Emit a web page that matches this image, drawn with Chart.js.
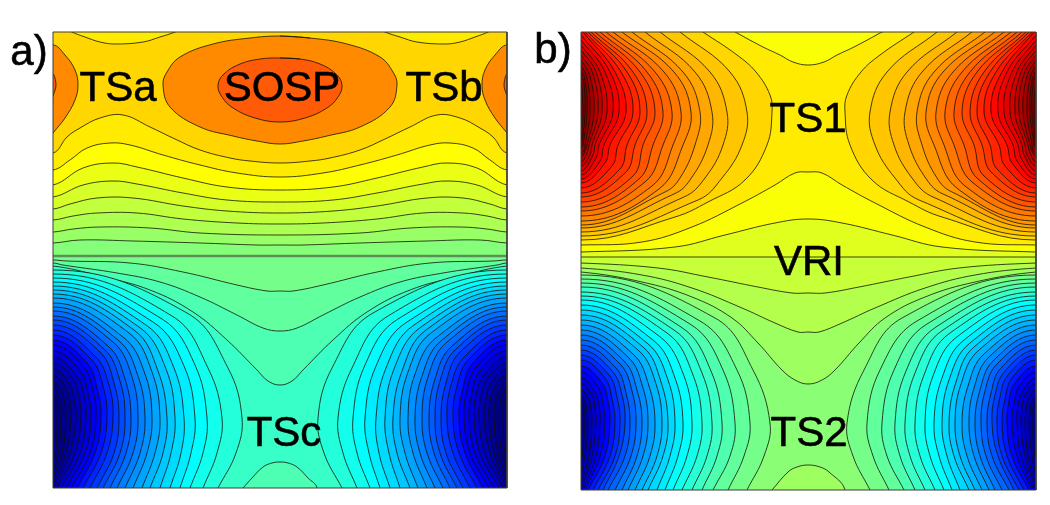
<!DOCTYPE html>
<html>
<head>
<meta charset="utf-8">
<script src="https://cdn.jsdelivr.net/npm/chart.js@4"></script>
<style>
html,body{margin:0;padding:0;background:#fff;width:1050px;height:505px;overflow:hidden}
canvas{position:absolute;top:0;filter:blur(0.6px)}
#ca{left:0}#cb{left:525px}
</style>
</head>
<body>
<canvas id="ca" width="525" height="505"></canvas>
<canvas id="cb" width="525" height="505"></canvas>
<script>
// ---- Panel a) values (axis units = picture pixels) ----
const aBox = [53, 507, 32, 488];
const aCentre = 280;
const aLabels = ["a)", "TSa", "SOSP", "TSb", "TSc"];
const aLabelX = [29, 118, 282, 444, 284];
const aLabelY = [53, 89, 89, 89, 434];
// contours running across the panel, left half, upper side (lowest level first)
const aUpperLines = [
 [[53,243],[80,240],[133,241],[200,243],[257,245],[280,245]],
 [[53,232],[73,229],[100,227],[150,228],[200,233],[280,235]],
 [[53,220],[73,216],[97,213],[137,213],[183,219],[237,223],[280,224]],
 [[53,209],[70,204],[97,198],[133,198],[183,206],[227,211],[280,213]],
 [[53,197],[83,185],[113,181],[137,184],[183,193],[227,200],[280,202]],
 [[53,185],[83,168],[113,163],[137,167],[183,178],[227,187],[280,190]],
 [[53,170],[70,160],[87,148],[110,143],[130,145],[163,155],[200,165],[237,173],[280,177]],
 [[53,153],[67,137],[80,128],[100,118],[123,115],[150,127],[175,139],[200,150],[230,158],[250,161],[280,163]]
];
const aUpperLevels = [0.525,0.545,0.565,0.585,0.605,0.625,0.645,0.665];
const aMiddleY = 256;
const aTopArc = [[60,25],[72,32],[85,37],[100,42],[115,44],[143,42],[160,37],[175,32],[190,25]];
const aSideLobe = [[53,45],[65,55],[75,70],[78,85],[75,100],[65,118],[53,133]];
const aSideLobeInner = [[53,74],[56,85],[53,96]];
const aMainLobe = [[280,36],[250,38],[213,44],[180,57],[167,72],[163,85],[170,107],[200,127],[233,136],[257,141],[280,144]];
const aInnerLobe = [[280,58],[260,59],[240,64],[224,74],[218,85],[222,97],[233,108],[255,118],[280,122]];
const aLowerLines = [
 [[53,260],[67,261],[130,263],[183,272],[237,285],[267,291],[280,291]],
 [[53,263],[63,265],[117,273],[160,282],[200,297],[237,315],[263,328],[280,331]],
 [[53,266],[100,276],[150,290],[193,312],[227,340],[257,370],[268,381],[280,385]]
];
const aLowerLevels = [0.47,0.45,0.43];
const aHump = [[243,488],[252,478],[263,467],[272,463],[280,462]];
// lower lobe arcs: y at left edge, shoulder x,y, upper x,y, widest x, x half way down, x at bottom edge
const aLowerArcs = [
 [270,187,313,228,368,242,236,218],[274,172,316,208,368,222,217,203],[278,162,319,195,365,207,203,190],[282,153,322,184,366,195,191,180],
 [286,146,325,174,368,184,181,170],[290,139,327,166,369,175,171,160],[294,134,330,158,371,167,163,150],[298,129,333,152,372,160,155,142],
 [303,123,337,145,374,152,147,133],[307,118,340,138,376,145,140,125],[311,113,342,132,377,138,133,117],[316,108,346,125,379,131,126,110],
 [320,104,349,120,381,125,120,103],[325,100,352,114,383,119,114,97],[330,95,356,109,385,113,107,90],[335,91,359,103,386,107,101,83],
 [340,87,363,97,388,101,95,77],[345,83,366,93,390,96,90,71],[351,80,371,88,393,91,85,66],[357,76,375,84,395,86,80,61],
 [363,73,379,79,397,81,75,57],[369,69,383,74,399,76,70,54],[375,66,388,70,402,71,66,51],[382,62,393,65,404,66,62,48],
 [389,59,398,60,407,61,58,45],[396,56,402,57,410,57,55,42]
];
const aArcCentreY = 418, aArcMidY = 453;

// ---- Panel b) ----
const bBox = [581, 1036, 32, 490];
const bCentre = 808.5;
const bLabels = ["b)", "TS1", "VRI", "TS2"];
const bLabelX = [553, 808, 809, 809];
const bLabelY = [51, 120, 263, 434];
const bMiddleY = 257;
const bUpperLines = [
 [[581,252],[675,247],[725,235],[775,223],[808,219]],
 [[581,245],[642,242],[692,227],[742,203],[775,185],[795,173],[808,172]]
];
const bUpperLevels = [0.62,0.645];
const bTopArc = [[725,26],[737,33],[763,47],[780,55],[793,62],[808,65]];
const bLowerLines = [
 [[581,263],[658,268],[708,277],[758,287],[792,293],[808,293]],
 [[581,268],[642,275],[692,288],[742,308],[775,323],[798,332],[808,332]],
 [[581,272],[642,282],[692,297],[732,318],[758,343],[782,370],[795,380],[808,384]]
];
const bLowerLevels = [0.55,0.53,0.51];
const bHump = [[772,490],[788,472],[797,467],[808,465]];
// upper lobe arcs: y at the left edge (low side), then x,y pairs running up to the far end of the arc
const bUpperArcs = [
 [240,675,217,708,202,745,180,767,145,772,112,770,95,756,72,737,55,703,32],
 [236,698,200,722,178,742,145,747,112,730,72,680,32],
 [232,684,197,705,178,723,145,727,112,710,72,660,32],
 [228,674,194,690,180,708,145,712,112,695,72,645,32],
 [225,665,192,680,178,695,145,700,112,683,72,632,32],
 [221,659,189,683,145,691,112,674,72,622,32],
 [216,652,186,673,145,681,112,664,72,613,32],
 [211,645,182,663,145,672,112,655,72,606,32],
 [207,639,179,653,145,663,112,647,72,600,32],
 [202,633,176,643,145,655,112,640,72,595,32],
 [197,626,172,635,145,647,112,633,72,591,32],
 [193,620,169,627,145,640,112,627,72,588,32],
 [188,612,166,618,145,633,112,621,72,585,32],
 [183,605,163,610,145,626,112,615,72,583,32],
 [179,600,161,604,145,619,112,610,72,581,35],
 [175,596,158,599,145,613,112,605,72,581,40],
 [171,593,155,595,145,607,112,600,72,581,45],
 [166,590,155,592,145,602,112,596,72,581,50],
 [162,587,153,589,145,598,112,593,74,581,55],
 [157,585,151,587,145,594,112,590,76,581,60],
 [153,584,150,585,145,590,112,587,78,581,65],
 [148,582,147,583,145,587,112,585,80,581,70],
 [144,582,140,583,135,585,112,584,84,581,75],
 [140,582,133,582,128,583,112,582,88,581,80]
];
const bLowerArcs = [
 [275,715,318,753,370,770,764,747],[279,700,321,737,370,750,744,728],[283,690,324,723,370,735,730,713],[287,681,327,711,371,722,717,702],
 [292,674,330,702,373,712,707,692],[296,667,333,693,375,702,697,682],[300,659,336,684,376,692,687,673],[305,653,340,675,378,683,678,665],
 [310,647,343,668,380,675,670,657],[315,643,347,661,382,668,663,648],[320,638,350,656,384,662,657,642],[325,633,354,649,386,655,650,635],
 [330,628,357,643,388,648,643,628],[335,624,361,637,390,642,637,622],[340,620,364,632,391,636,631,615],[345,616,368,626,393,630,625,608],
 [350,612,371,622,395,625,619,603],[355,609,375,617,397,620,615,598],[360,605,378,612,399,615,610,593],[366,602,383,608,401,610,605,588],
 [372,598,387,603,404,605,600,585],[378,594,391,599,406,600,596,583],[384,592,395,595,408,596,592,581],[390,589,400,591,410,592,589,579],
 [396,586,404,587,413,588,585,577],[402,584,408,585,415,585,582,575]
];
const bLowerArcCentreY = 423, bLowerArcMidY = 456;

// ---- helpers ----
function jet(v){
  v = Math.max(0.01,Math.min(0.99,v));
  const c = t => Math.round(255*Math.max(0,Math.min(1,t)));
  const r = 1.5-Math.abs(4*v-3), g = 1.5-Math.abs(4*v-2), b = 1.5-Math.abs(4*v-1);
  return `rgb(${c(r)},${c(g)},${c(b)})`;
}
const LINE = 'rgba(16,15,8,0.78)';
const pts = a => a.map(p => ({x:p[0], y:p[1]}));
const mirror = (a,cx) => a.map(p => [2*cx-p[0], p[1]]);
function region(points, color, opts){
  return Object.assign({data:pts(points), showLine:true, fill:'shape', backgroundColor:color,
    borderColor:LINE, borderWidth:1, pointRadius:0, tension:0.4}, opts||{});
}
// a line across the panel: closed off-panel above or below
function crossRegion(half, cx, box, up, color, opts){
  const right = mirror(half,cx).reverse().slice(1);
  const farY = up ? box[2]-60 : box[3]+60;
  const L = box[0]-40, R = box[1]+40;
  return region([[L,half[0][1]],...half,...right,[R,half[0][1]],[R,farY],[L,farY]], color, opts);
}
// an arc that leaves and re-enters the left edge: closed off-panel at the left
function lobeRegion(p, edge, color, cx){
  const n = p.length;
  const g0 = [2*edge-p[1][0], p[1][1]];
  const g1 = [2*p[n-1][0]-p[n-2][0], 2*p[n-1][1]-p[n-2][1]];
  const far = edge-260;
  const poly = [g0,...p,g1,[far,g1[1]],[far,g0[1]]];
  return [region(poly,color), region(mirror(poly,cx),color)];
}
// closed loop on the centre line from a left half
function loopRegion(half, cx, color){
  const m = mirror(half,cx);
  const back = m.slice().reverse().slice(1);
  return region([m[1],...half,...back,half[0]], color);
}
// shape open to the panel edge, mirrored about centre (hump at the bottom / arc at the top)
function capRegion(half, cx, farY, color){
  const back = mirror(half,cx).reverse().slice(1);
  const poly = [...half,...back];
  return region([...poly,[poly[poly.length-1][0],farY],[poly[0][0],farY]], color);
}
function frame(box){
  const [l,r,t,b] = box;
  return {data:pts([[l,t],[r,t],[r,b],[l,b],[l,t]]), showLine:true, fill:false, clip:false,
    borderColor:'#3c3c38', borderWidth:1, pointRadius:0, tension:0};
}
const textPlugin = (names,xs,ys) => ({
  id:'contourLabels',
  afterDatasetsDraw(chart){
    const c = chart.ctx, sx = chart.scales.x, sy = chart.scales.y;
    c.save();
    c.font = '42px "Liberation Sans", Arial, sans-serif';
    c.fillStyle = '#000'; c.strokeStyle = '#000'; c.lineWidth = 0.6;
    c.textAlign = 'center'; c.textBaseline = 'middle';
    names.forEach((t,i) => {
      const px = sx.getPixelForValue(xs[i]), py = sy.getPixelForValue(ys[i]);
      c.fillText(t, px, py); c.strokeText(t, px, py);
    });
    c.restore();
  }
});
function draw(id, box, canvasLeft, drawList, names, xs, ys){
  new Chart(document.getElementById(id), {
    type:'scatter',
    data:{datasets:drawList.slice().reverse()},
    options:{
      responsive:false, animation:false, devicePixelRatio:1,
      layout:{padding:{left:box[0]-canvasLeft, right:canvasLeft+525-box[1], top:box[2], bottom:505-box[3]}},
      scales:{
        x:{type:'linear', min:box[0], max:box[1], display:false},
        y:{type:'linear', min:box[2], max:box[3], reverse:true, display:false}
      },
      plugins:{legend:{display:false}, tooltip:{enabled:false}}
    },
    plugins:[textPlugin(names,xs,ys)]
  });
}

// ---- panel a) draw list ----
const aList = [];
aList.push(crossRegion([[53,aMiddleY],[aCentre,aMiddleY]],aCentre,aBox,false,jet(0.49),{borderWidth:0}));
aLowerLines.forEach((l,i) => aList.push(crossRegion(l,aCentre,aBox,false,jet(aLowerLevels[i]))));
aList.push(capRegion(aHump,aCentre,aBox[3]+40,jet(0.45)));
aLowerArcs.forEach((r,k) => {
  const p = [[aBox[0],r[0]],[r[1],r[2]],[r[3],r[4]],[r[5],aArcCentreY],[r[6],aArcMidY],[r[7],aBox[3]]];
  aList.push(...lobeRegion(p,aBox[0],jet(0.41-k*0.0178),aCentre));
});
aList.push(crossRegion([[53,aMiddleY],[aCentre,aMiddleY]],aCentre,aBox,true,jet(0.505),{borderWidth:2.4,borderColor:'#5f8f58'}));
aUpperLines.forEach((l,i) => aList.push(crossRegion(l,aCentre,aBox,true,jet(aUpperLevels[i]))));
const aTopClosure = [[190,5],[60,5]];
aList.push(region([...aTopArc,...aTopClosure],jet(0.645)));
aList.push(region(mirror([...aTopArc,...aTopClosure],aCentre),jet(0.645)));
aList.push(...lobeRegion(aSideLobe,aBox[0],'#ff8a00',aCentre));
aList.push(...lobeRegion(aSideLobeInner,aBox[0],'#ff5a08',aCentre));
aList.push(loopRegion(aMainLobe,aCentre,'#ff8a00'));
aList.push(loopRegion(aInnerLobe,aCentre,'#ff5a08'));
aList.push(frame(aBox));
draw('ca',aBox,0,aList,aLabels,aLabelX,aLabelY);

// ---- panel b) draw list ----
const bList = [];
bList.push(crossRegion([[581,bMiddleY],[bCentre,bMiddleY]],bCentre,bBox,false,jet(0.57),{borderWidth:0}));
bLowerLines.forEach((l,i) => bList.push(crossRegion(l,bCentre,bBox,false,jet(bLowerLevels[i]))));
bList.push(capRegion(bHump,bCentre,bBox[3]+40,jet(0.53)));
bLowerArcs.forEach((r,k) => {
  const p = [[bBox[0],r[0]],[r[1],r[2]],[r[3],r[4]],[r[5],bLowerArcCentreY],[r[6],bLowerArcMidY],[r[7],bBox[3]]];
  bList.push(...lobeRegion(p,bBox[0],jet(0.49-k*0.019),bCentre));
});
bList.push(crossRegion([[581,bMiddleY],[bCentre,bMiddleY]],bCentre,bBox,true,jet(0.595)));
bUpperLines.forEach((l,i) => bList.push(crossRegion(l,bCentre,bBox,true,jet(bUpperLevels[i]))));
bList.push(capRegion(bTopArc,bCentre,bBox[2]-40,jet(0.62)));
bUpperArcs.forEach((r,k) => {
  const p = [[bBox[0],r[0]]];
  for (let i = 1; i < r.length; i += 2) p.push([r[i],r[i+1]]);
  bList.push(...lobeRegion(p,bBox[0],jet(0.665+k*0.0158),bCentre));
});
bList.push(frame(bBox));
draw('cb',bBox,525,bList,bLabels,bLabelX,bLabelY);
</script>
</body>
</html>
